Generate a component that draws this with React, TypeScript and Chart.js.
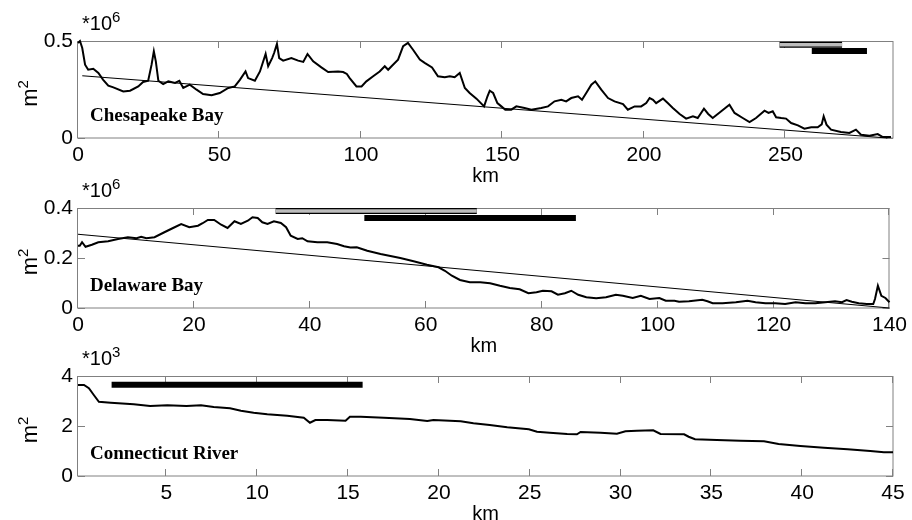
import { useEffect, useRef } from "react";
import { Chart, registerables } from "chart.js";

Chart.register(...registerables);

// ---------- Chesapeake Bay (km, area ×10^6 m²) ----------
const chesKm = [0, 0.7, 1.5, 2.5, 3.6, 5.4, 7.2, 8.9, 10.7, 12.5, 16, 18.4, 21.3, 23, 24.8, 26, 26.8, 27.5, 28.4, 30.1, 31.9, 34.3, 35.8, 37.2, 39.5, 41.9, 44.2, 47.2, 50.1, 53.1, 55.4, 57.2, 59.2, 60.1, 62.5, 64.3, 66.3, 67.2, 68.6, 69.3, 70.3, 71.1, 72.5, 75.4, 77.8, 79.6, 81.1, 83.1, 86, 88.4, 91.9, 93.7, 95, 96, 98.4, 100.2, 101.9, 104.3, 106.6, 108.4, 109.6, 110.8, 113.1, 114.9, 116.6, 118.4, 120.8, 122.5, 125.1, 127.2, 129.6, 131.4, 133.1, 134.9, 136.7, 138.4, 140.8, 143.5, 144.7, 145.5, 146.7, 148.2, 149.6, 151, 153.1, 154.9, 157.8, 160.2, 163.7, 166.1, 168.4, 170.8, 172.5, 174.3, 176.7, 178.1, 179.6, 181.4, 182.8, 184.9, 187.3, 189.6, 192.6, 194.3, 196.7, 199, 200.8, 202, 203.2, 204.3, 206.7, 208.4, 210.2, 212.6, 214.9, 217.3, 219, 221.2, 222.7, 224.3, 227.3, 230.2, 232, 234.9, 237.3, 239.6, 242.6, 244, 245.5, 246.7, 248.5, 250.2, 252, 254.4, 256.7, 259.1, 261.4, 262.8, 263.5, 264.5, 266.1, 269.6, 272.6, 274.9, 276.7, 279.7, 282.6, 284.4, 287.3];
const chesArea = [0.49, 0.5, 0.464, 0.378, 0.352, 0.357, 0.335, 0.3, 0.27, 0.261, 0.24, 0.244, 0.266, 0.289, 0.295, 0.378, 0.447, 0.395, 0.295, 0.278, 0.292, 0.284, 0.295, 0.258, 0.275, 0.249, 0.227, 0.22, 0.232, 0.258, 0.266, 0.3, 0.343, 0.309, 0.295, 0.343, 0.433, 0.37, 0.412, 0.438, 0.485, 0.412, 0.399, 0.412, 0.399, 0.392, 0.433, 0.395, 0.364, 0.34, 0.343, 0.34, 0.33, 0.309, 0.266, 0.266, 0.292, 0.318, 0.343, 0.37, 0.352, 0.37, 0.404, 0.473, 0.49, 0.455, 0.404, 0.387, 0.364, 0.318, 0.313, 0.318, 0.313, 0.335, 0.258, 0.232, 0.203, 0.163, 0.215, 0.244, 0.232, 0.18, 0.163, 0.146, 0.146, 0.163, 0.155, 0.146, 0.155, 0.163, 0.189, 0.197, 0.189, 0.206, 0.215, 0.197, 0.232, 0.275, 0.292, 0.249, 0.206, 0.189, 0.175, 0.146, 0.163, 0.163, 0.18, 0.206, 0.197, 0.18, 0.203, 0.18, 0.155, 0.124, 0.1, 0.112, 0.103, 0.151, 0.124, 0.103, 0.138, 0.172, 0.129, 0.103, 0.082, 0.103, 0.141, 0.129, 0.138, 0.107, 0.103, 0.1, 0.077, 0.065, 0.048, 0.055, 0.055, 0.07, 0.112, 0.069, 0.043, 0.031, 0.026, 0.043, 0.017, 0.012, 0.02, 0.005, 0.005];
const chesTrendKm = [1.5, 286];
const chesTrendArea = [0.321, 0.0];
const chesGrayBarKm = [247.9, 270.0];
const chesGrayBarLevel = 0.481;
const chesBlackBarKm = [259.3, 278.8];
const chesBlackBarLevel = 0.449;
const chesXTicks = [0, 50, 100, 150, 200, 250];
const chesYTicks = [0, 0.5];

// ---------- Delaware Bay (km, area ×10^6 m²) ----------
const delKm = [0, 0.3, 0.7, 1.3, 2.4, 3.5, 5.2, 6.9, 8.6, 10.1, 10.9, 11.8, 13.2, 14.9, 16.4, 17.8, 19.2, 20.7, 21.5, 22.4, 23.5, 24.7, 25.8, 27, 28.1, 29.3, 30.1, 31, 31.8, 32.7, 33.8, 35, 35.9, 36.7, 37.9, 38.7, 39.6, 41.3, 43, 44.7, 45.9, 47, 48.1, 49.9, 52.2, 53.9, 55.6, 57.9, 60.2, 62.2, 63.3, 64.5, 65.9, 67.6, 69.4, 71.1, 72.8, 74.5, 76.2, 77.7, 79.1, 80.2, 81.7, 82.8, 84, 85.1, 86.3, 87.7, 89.4, 91.1, 92.8, 94, 95.7, 97.1, 98.6, 100.3, 101.4, 102.9, 103.7, 105.4, 107.7, 108.6, 109.5, 111.2, 113.5, 115.5, 116.9, 118.6, 120.3, 122, 123.8, 125.5, 127.2, 128.9, 130.6, 131.8, 132.6, 133.5, 134.7, 136.1, 137.2, 137.5, 138, 138.6, 139.3, 140];
const delArea = [0.249, 0.249, 0.263, 0.245, 0.253, 0.263, 0.267, 0.276, 0.283, 0.279, 0.285, 0.279, 0.283, 0.303, 0.32, 0.336, 0.323, 0.329, 0.339, 0.352, 0.352, 0.333, 0.32, 0.347, 0.336, 0.349, 0.363, 0.36, 0.343, 0.336, 0.347, 0.34, 0.323, 0.289, 0.276, 0.279, 0.267, 0.263, 0.263, 0.256, 0.247, 0.242, 0.243, 0.229, 0.216, 0.208, 0.2, 0.187, 0.173, 0.163, 0.149, 0.129, 0.112, 0.103, 0.103, 0.099, 0.089, 0.08, 0.075, 0.059, 0.063, 0.069, 0.067, 0.053, 0.059, 0.069, 0.053, 0.043, 0.039, 0.043, 0.053, 0.049, 0.04, 0.049, 0.036, 0.04, 0.029, 0.029, 0.025, 0.027, 0.033, 0.027, 0.019, 0.019, 0.023, 0.029, 0.023, 0.019, 0.019, 0.016, 0.023, 0.019, 0.019, 0.023, 0.027, 0.023, 0.032, 0.025, 0.019, 0.016, 0.016, 0.036, 0.089, 0.049, 0.04, 0.023];
const delTrendKm = [0, 140];
const delTrendArea = [0.295, 0.0];
const delGrayBarKm = [34.1, 68.8];
const delGrayBarLevel = 0.388;
const delBlackBarKm = [49.4, 85.9];
const delBlackBarLevel = 0.36;
const delXTicks = [0, 20, 40, 60, 80, 100, 120, 140];
const delYTicks = [0, 0.2, 0.4];

// ---------- Connecticut River (km, area ×10^3 m²) ----------
const connKm = [0.13, 0.46, 0.73, 1.0, 1.28, 1.93, 3.2, 4.1, 5.05, 6.1, 6.9, 7.6, 8.5, 9.1, 9.8, 10.55, 11.65, 12.56, 12.9, 13.2, 13.85, 14.86, 15.1, 15.7, 16.97, 18.4, 19.36, 19.7, 20.6, 21.2, 21.9, 22.8, 23.76, 24.95, 25.4, 26.1, 27.06, 27.6, 27.8, 28.9, 29.8, 30.27, 30.9, 31.8, 32.2, 33.5, 33.75, 34.1, 35.3, 36.6, 37.9, 38.7, 39.9, 41.2, 42.5, 43.75, 44.5, 45.0];
const connArea = [3.64, 3.64, 3.51, 3.24, 2.97, 2.93, 2.87, 2.8, 2.83, 2.8, 2.83, 2.76, 2.71, 2.61, 2.53, 2.47, 2.41, 2.33, 2.13, 2.24, 2.24, 2.21, 2.37, 2.37, 2.33, 2.28, 2.2, 2.24, 2.21, 2.19, 2.11, 2.04, 1.95, 1.87, 1.77, 1.73, 1.68, 1.67, 1.76, 1.73, 1.69, 1.79, 1.81, 1.83, 1.68, 1.67, 1.57, 1.47, 1.44, 1.41, 1.39, 1.28, 1.2, 1.13, 1.07, 1.0, 0.95, 0.95];
const connBlackBarKm = [1.98, 15.8];
const connBlackBarLevel = 3.65;
const connXTicks = [5, 10, 15, 20, 25, 30, 35, 40, 45];
const connYTicks = [0, 2, 4];

type Bar = { km: number[]; level: number; gray: boolean };
type Panel = {
  name: string;
  exponent: string;
  km: number[];
  area: number[];
  trendKm?: number[];
  trendArea?: number[];
  bars: Bar[];
  xMin: number;
  xMax: number;
  yMax: number;
  xTicks: number[];
  yTicks: number[];
  top: number;
  bottom: number;
};

const panels: Panel[] = [
  {
    name: "Chesapeake Bay", exponent: "6", km: chesKm, area: chesArea,
    trendKm: chesTrendKm, trendArea: chesTrendArea,
    bars: [
      { km: chesGrayBarKm, level: chesGrayBarLevel, gray: true },
      { km: chesBlackBarKm, level: chesBlackBarLevel, gray: false },
    ],
    xMin: 0, xMax: 288, yMax: 0.5, xTicks: chesXTicks, yTicks: chesYTicks, top: 41, bottom: 138,
  },
  {
    name: "Delaware Bay", exponent: "6", km: delKm, area: delArea,
    trendKm: delTrendKm, trendArea: delTrendArea,
    bars: [
      { km: delGrayBarKm, level: delGrayBarLevel, gray: true },
      { km: delBlackBarKm, level: delBlackBarLevel, gray: false },
    ],
    xMin: 0, xMax: 140, yMax: 0.4, xTicks: delXTicks, yTicks: delYTicks, top: 208, bottom: 308,
  },
  {
    name: "Connecticut River", exponent: "3", km: connKm, area: connArea,
    bars: [{ km: connBlackBarKm, level: connBlackBarLevel, gray: false }],
    xMin: 0.13, xMax: 45, yMax: 4, xTicks: connXTicks, yTicks: connYTicks, top: 376, bottom: 476,
  },
];

const CANVAS_H = 600;
const LEFT = 78;
const RIGHT = 893;
const X_AXIS_H = 50;

function makeDecor(p: Panel) {
  return {
    id: "decor",
    beforeDatasetsDraw(chart: any) {
      const { ctx, chartArea: a, scales } = chart;
      ctx.save();
      ctx.strokeStyle = "#808080";
      ctx.lineWidth = 1;
      ctx.strokeRect(Math.round(a.left) - 0.5, Math.round(a.top) + 0.5, Math.round(a.right - a.left) + 0.5, Math.round(a.bottom - a.top) - 0.5);
      ctx.beginPath();
      for (const t of scales.x.ticks) {
        const px = Math.round(scales.x.getPixelForValue(t.value)) - 0.5;
        ctx.moveTo(px, a.bottom); ctx.lineTo(px, a.bottom - 7);
        ctx.moveTo(px, a.top); ctx.lineTo(px, a.top + 7);
      }
      for (const t of scales.y.ticks) {
        const py = Math.round(scales.y.getPixelForValue(t.value)) + 0.5;
        ctx.moveTo(a.left, py); ctx.lineTo(a.left + 7, py);
        ctx.moveTo(a.right, py); ctx.lineTo(a.right - 7, py);
      }
      ctx.stroke();
      ctx.restore();
    },
    afterDraw(chart: any) {
      const { ctx, chartArea: a } = chart;
      ctx.save();
      ctx.fillStyle = "#000";
      ctx.textBaseline = "alphabetic";
      ctx.textAlign = "left";
      // panel name
      ctx.font = 'bold 19px "Liberation Serif"';
      ctx.fillText(p.name, a.left + 12, a.bottom - 17);
      // axis multiplier *10^n
      ctx.font = '20px "Liberation Sans"';
      const base = "*10";
      const bx = a.left + 4;
      const by = a.top - 11;
      ctx.fillText(base, bx, by);
      const w = ctx.measureText(base).width;
      ctx.font = '15px "Liberation Sans"';
      ctx.fillText(p.exponent, bx + w, by - 8);
      // y-axis unit m^2 (rotated)
      const cy = (a.top + a.bottom) / 2 + 4;
      ctx.translate(37, cy);
      ctx.rotate(-Math.PI / 2);
      ctx.font = '22px "Liberation Sans"';
      const mw = ctx.measureText("m").width;
      ctx.font = '15px "Liberation Sans"';
      const sw = ctx.measureText("2").width;
      const start = -(mw + sw) / 2;
      ctx.font = '22px "Liberation Sans"';
      ctx.fillText("m", start, 0);
      ctx.font = '15px "Liberation Sans"';
      ctx.fillText("2", start + mw, -9);
      ctx.restore();
    },
  };
}

function makeConfig(p: Panel): any {
  const datasets: any[] = [];
  datasets.push({
    data: p.km.map((x, i) => ({ x, y: p.area[i] })),
    borderColor: "#000", borderWidth: 2, pointRadius: 0, fill: false, tension: 0, order: 2,
  });
  if (p.trendKm && p.trendArea) {
    const tk = p.trendKm, ta = p.trendArea;
    datasets.push({
      data: tk.map((x, i) => ({ x, y: ta[i] })),
      borderColor: "#000", borderWidth: 1.2, pointRadius: 0, fill: false, order: 3,
    });
  }
  for (const b of p.bars) {
    datasets.push({
      data: b.km.map((x) => ({ x, y: b.level })),
      borderColor: "#000", borderWidth: 6, borderCapStyle: "butt", pointRadius: 0, order: 1,
    });
    if (b.gray) {
      datasets.push({
        data: b.km.map((x) => ({ x, y: b.level })),
        borderColor: "#bdbdbd", borderWidth: 3.6, borderCapStyle: "butt", pointRadius: 0, order: 0,
      });
    }
  }
  return {
    type: "line",
    data: { datasets },
    options: {
      animation: false,
      responsive: false,
      clip: false,
      layout: {
        padding: { left: 0, right: 912 - RIGHT, top: p.top, bottom: CANVAS_H - p.bottom - X_AXIS_H },
      },
      plugins: { legend: { display: false }, tooltip: { enabled: false } },
      scales: {
        x: {
          type: "linear",
          min: p.xMin,
          max: p.xMax,
          afterBuildTicks: (s: any) => { s.ticks = p.xTicks.map((v) => ({ value: v })); },
          afterFit: (s: any) => { s.height = X_AXIS_H; },
          grid: { display: false, drawTicks: false },
          border: { display: false },
          ticks: {
            autoSkip: false, maxRotation: 0, padding: 5, color: "#000",
            font: { family: "Liberation Sans", size: 21 },
            callback: (v: any) => String(v),
          },
          title: {
            display: true, text: "km", color: "#000", padding: 0,
            font: { family: "Liberation Sans", size: 20 },
          },
        },
        y: {
          type: "linear",
          min: 0,
          max: p.yMax,
          afterBuildTicks: (s: any) => { s.ticks = p.yTicks.map((v) => ({ value: v })); },
          afterFit: (s: any) => { s.width = LEFT; },
          grid: { display: false, drawTicks: false },
          border: { display: false },
          ticks: {
            padding: 5, color: "#000",
            font: { family: "Liberation Sans", size: 21 },
            callback: (v: any) => String(v),
          },
          title: { display: false },
        },
      },
    },
    plugins: [makeDecor(p)],
  };
}

export default function App() {
  const r0 = useRef<HTMLCanvasElement>(null);
  const r1 = useRef<HTMLCanvasElement>(null);
  const r2 = useRef<HTMLCanvasElement>(null);
  const refs = [r0, r1, r2];

  useEffect(() => {
    const charts = panels.map((p, i) => new Chart(refs[i].current as HTMLCanvasElement, makeConfig(p)));
    return () => charts.forEach((c) => c.destroy());
  }, []);

  return (
    <div style={{ position: "fixed", left: 0, top: 0, width: 912, height: 520, overflow: "hidden", background: "#fff" }}>
      {refs.map((r, i) => (
        <canvas
          key={i}
          ref={r}
          width={912}
          height={CANVAS_H}
          style={{ position: "absolute", left: 0, top: 0, width: 912, height: CANVAS_H }}
        />
      ))}
    </div>
  );
}
